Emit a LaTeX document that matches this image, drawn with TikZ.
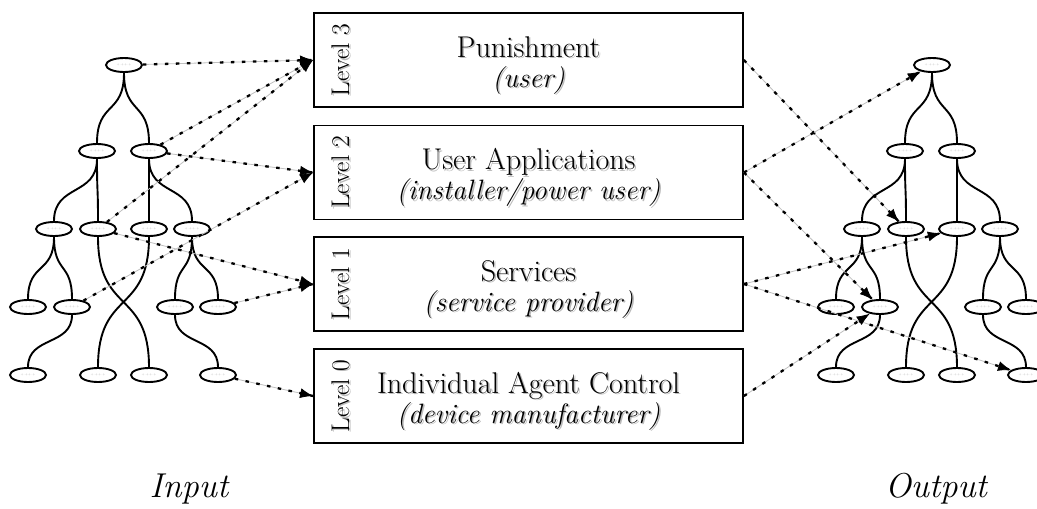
\documentclass[tikz,border=0pt]{standalone}
\usetikzlibrary{shapes.geometric,arrows.meta,calc}

% tree of small elliptical states; #1 = name prefix, #2 = horizontal offset
\newcommand\drawtree[2]{%
  \begin{scope}[shift={(#2,0)}]
    \node[tnode] (#1r) at (124,65)  {+.++.+};
    \node[tnode] (#1a) at (97,151)  {+.++.+};
    \node[tnode] (#1b) at (149,151) {+.++.+};
    \node[tnode] (#1c) at (54,229)  {+.++.+};
    \node[tnode] (#1d) at (98,229)  {+.++.+};
    \node[tnode] (#1e) at (149,229) {+.++.+};
    \node[tnode] (#1f) at (192,229) {+.++.+};
    \node[tnode] (#1g) at (28,307)  {+.++.+};
    \node[tnode] (#1h) at (72,307)  {+.++.+};
    \node[tnode] (#1i) at (175,307) {+.++.+};
    \node[tnode] (#1j) at (218,307) {+.++.+};
    \node[tnode] (#1k) at (28,375)  {+.++.+};
    \node[tnode] (#1l) at (98,375)  {+.++.+};
    \node[tnode] (#1m) at (149,375) {+.++.+};
    \node[tnode] (#1n) at (218,375) {+.++.+};
  \end{scope}
  \sedge{#1r}{#1a}\sedge{#1r}{#1b}
  \sedge{#1a}{#1c}\sedge{#1a}{#1d}
  \sedge{#1b}{#1e}\sedge{#1b}{#1f}
  \sedge{#1c}{#1g}\sedge{#1c}{#1h}
  \sedge{#1h}{#1k}
  \sedge{#1d}{#1m}\sedge{#1e}{#1l}
  \sedge{#1f}{#1i}\sedge{#1f}{#1j}
  \sedge{#1i}{#1n}%
}
% smooth S-shaped tree edge from the bottom of #1 to the top of #2
\newcommand\sedge[2]{%
  \draw[tedge] (#1.south)
    .. controls ($(#1.south)!0.6!(#1.south|-#2.north)$)
    and ($(#2.north)!0.6!(#2.north|-#1.south)$) .. (#2.north);}

% level box labels with a soft drop shadow; #1 box, #2 level, #3 title, #4 role
\newcommand\boxlabel[4]{%
  \node[lvl,text=gray!55] at ([shift={(350.5,1.5)}]#1.center-|0,0) {Level #2};
  \node[lvl] (#1-lvl) at ([shift={(349,0)}]#1.center-|0,0) {Level #2};
  \node[ttl,text=gray!55] at ([shift={(1.5,-1.5)}]#1.center) {#3};
  \node[ttl] (#1-ttl) at ([shift={(0,-3)}]#1.center) {#3};
  \node[role,text=gray!55] at ([shift={(1.5,28.5)}]#1.center) {#4};
  \node[role] (#1-role) at ([shift={(0,27)}]#1.center) {#4};
}

\begin{document}
\begin{tikzpicture}[x=1pt,y=-1pt,
  tnode/.style={ellipse,draw,line width=1.9pt,minimum width=36pt,
    minimum height=14pt,inner sep=0pt,text=gray!70,
    font=\fontsize{3}{3}\selectfont},
  tedge/.style={line width=1.9pt},
  levelbox/.style={draw,line width=1.8pt,minimum width=429pt,
    minimum height=94pt,inner sep=0pt},
  lvl/.style={anchor=base,rotate=90,inner sep=0pt,font=\fontsize{25.5}{28}\selectfont},
  ttl/.style={anchor=base,inner sep=0pt,font=\fontsize{30}{34}\selectfont},
  role/.style={anchor=base,inner sep=0pt,font=\fontsize{28}{32}\selectfont\itshape},
  side/.style={anchor=base,inner sep=0pt,font=\fontsize{34.5}{40}\selectfont\itshape},
  link/.style={draw=gray!50,line width=0.8pt,
    -{Latex[length=13pt,width=10pt,black]},
    postaction={draw=black,-,line width=2.3pt,dash pattern=on 3.5pt off 7.5pt}},
]
\clip (0,0) rectangle (1037,509);

% the four levels
\node[levelbox] (b3) at (528.5,60)    {};
\node[levelbox] (b2) at (528.5,172.5) {};
\node[levelbox] (b1) at (528.5,284)   {};
\node[levelbox] (b0) at (528.5,396)   {};
\boxlabel{b3}{3}{Punishment}{(user)}
\boxlabel{b2}{2}{User Applications}{(installer/power user)}
\boxlabel{b1}{1}{Services}{(service provider)}
\boxlabel{b0}{0}{Individual Agent Control}{(device manufacturer)}

% input and output trees
\drawtree{L}{0}
\drawtree{R}{808}

% input side
\draw[link] (Lr) -- (b3.west);
\draw[link] (Lb) -- (b3.west);
\draw[link] (Ld) -- (b3.west);
\draw[link] (Lb) -- (b2.west);
\draw[link] (Lh) -- (b2.west);
\draw[link] (Ld) -- (b1.west);
\draw[link] (Lj) -- (b1.west);
\draw[link] (Ln) -- (b0.west);

% output side
\draw[link] (b3.east) -- (Rd);
\draw[link] (b2.east) -- (Rr);
\draw[link] (b2.east) -- (Rh);
\draw[link] (b1.east) -- (Re);
\draw[link] (b1.east) -- (Rn);
\draw[link] (b0.east) -- (Rh);

\node[side] (in)  at (189,497) {Input};
\node[side] (out) at (936,497) {Output};
\end{tikzpicture}
\end{document}
